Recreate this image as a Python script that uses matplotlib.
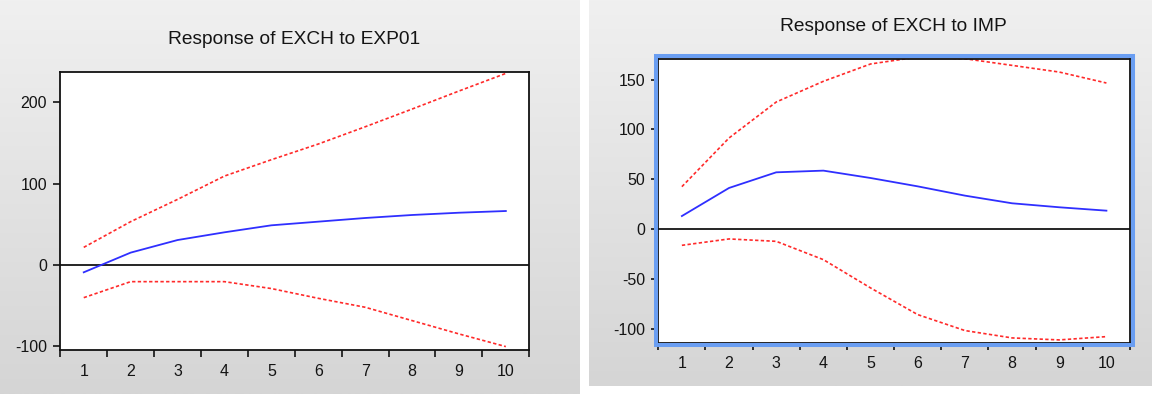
import numpy as np
import matplotlib
matplotlib.use("Agg")
import matplotlib.pyplot as plt
from matplotlib.patches import Rectangle

plt.rcParams['font.family'] = ['Liberation Sans', 'DejaVu Sans']

# impulse response data
periods = np.arange(1, 11)
period_labels = [str(p) for p in periods]

exp01_resp = [-9, 15.2, 30.7, 40.2, 48.8, 53.3, 57.8, 61.5, 64.3, 66.4]
exp01_upper = [21.7, 53.3, 80.7, 109.4, 129.5, 148.8, 170, 191.8, 214, 235.7]
exp01_lower = [-40.2, -20.5, -20.5, -20.5, -29, -41, -52, -68.4, -84.8, -100.4]

imp_resp = [13, 41.2, 56.9, 58.6, 51.2, 42.8, 33.5, 25.8, 21.8, 18.4]
imp_upper = [42.5, 91.4, 127.5, 148.3, 165.7, 172.7, 171, 164.3, 157.6, 146.6]
imp_lower = [-16.4, -10, -12.4, -30.8, -59.2, -86, -102, -109.4, -111.4, -108.1]

W, H = 1152, 394
fig = plt.figure(figsize=(W / 100, H / 100), dpi=100)
fig.patch.set_facecolor('white')

# grey gradient panels behind the two graphs (pixel coordinates)
bg = fig.add_axes([0, 0, 1, 1], zorder=-5)
grad = np.linspace(0, 1, 256).reshape(-1, 1)
cmap = matplotlib.colors.LinearSegmentedColormap.from_list('eviews', ['#f0f0f0', '#d5d5d5'])
bg.imshow(grad, cmap=cmap, extent=(0, 580, 394, 0), aspect='auto')
bg.imshow(grad, cmap=cmap, extent=(589, W, 386, 0), aspect='auto')
bg.set_xlim(0, W)
bg.set_ylim(H, 0)
bg.axis('off')

text_col = '#141414'


def draw_panel(ax, resp, upper, lower, title, yticks, ylim, tx, ty):
    ax.plot(periods, upper, color='#ff2a2a', lw=1.2, ls=(0, (2.0, 1.4)))
    ax.plot(periods, lower, color='#ff2a2a', lw=1.2, ls=(0, (2.0, 1.4)))
    ax.plot(periods, resp, color='#2f2fff', lw=1.3)
    ax.axhline(0, color='black', lw=1.2, zorder=1)
    ax.set_xlim(0.5, 10.5)
    ax.set_ylim(*ylim)
    ax.set_yticks(yticks)
    ax.set_yticklabels([str(v) for v in yticks])
    # tick marks sit between periods, labels on the periods
    ax.set_xticks(np.arange(0.5, 11, 1))
    ax.set_xticklabels([])
    ax.set_xticks(periods, minor=True)
    ax.set_xticklabels(period_labels, minor=True)
    ax.tick_params(axis='x', which='major', length=5, width=1.1, color='black')
    ax.tick_params(axis='x', which='minor', length=0, pad=9.5, labelsize=11.5, labelcolor=text_col)
    ax.tick_params(axis='y', length=5, width=1.1, pad=4.4, labelsize=11.5, labelcolor=text_col)
    for sp in ax.spines.values():
        sp.set_linewidth(1.3)
        sp.set_color('#111111')
    fig.text(tx, ty, title, ha='center', va='baseline', fontsize=13.8, color=text_col)


ax1 = fig.add_axes([0.05234, 0.11041, 0.40712, 0.70558])
draw_panel(ax1, exp01_resp, exp01_upper, exp01_lower, 'Response of EXCH to EXP01',
           [-100, 0, 100, 200], (-105.2, 236.8), 0.2550, 1 - 44.3 / H)

ax2 = fig.add_axes([0.57144, 0.13020, 0.40946, 0.72005])
draw_panel(ax2, imp_resp, imp_upper, imp_lower, 'Response of EXCH to IMP',
           [-100, -50, 0, 50, 100, 150], (-114.2, 170.7), 0.7758, 1 - 30.7 / H)

# blue selection frame around the right graph
frame = Rectangle((656.3, 56.3), 1132.7 - 656.3, 344.7 - 56.3, fill=False,
                  edgecolor='#6a9ef2', lw=2.9, transform=bg.transData, zorder=10)
fig.add_artist(frame)

fig.savefig('out.png', dpi=100, facecolor=fig.get_facecolor())
